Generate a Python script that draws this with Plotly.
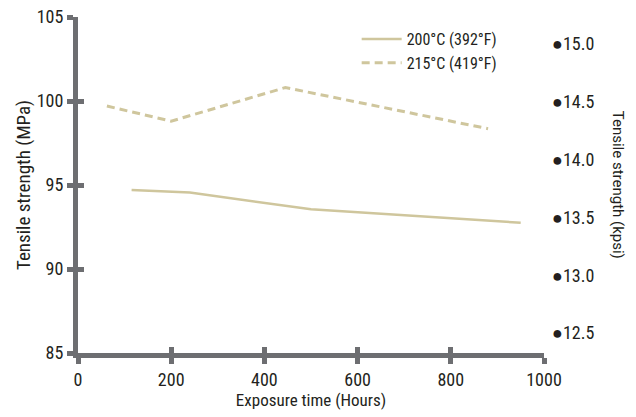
import plotly.graph_objects as go

# Data
hours_200 = [115, 240, 500, 950]
mpa_200 = [94.7, 94.55, 93.55, 92.75]
hours_215 = [62, 200, 445, 880]
mpa_215 = [99.7, 98.8, 100.8, 98.35]

x_ticks = [0, 200, 400, 600, 800, 1000]
y_ticks = [85, 90, 95, 100, 105]
kpsi_ticks = [12.5, 13.0, 13.5, 14.0, 14.5, 15.0]
MPA_PER_KPSI = 6.894757

LINE = "#cfc69d"
AXIS = "#6d6e71"
TEXT = "#231f20"
FONT = "Roboto Condensed, Liberation Sans Narrow, Roboto, sans-serif"

fig = go.Figure()
fig.add_trace(go.Scatter(x=hours_200, y=mpa_200, mode="lines", name="200°C (392°F)",
                         line=dict(color=LINE, width=2.5)))
fig.add_trace(go.Scatter(x=hours_215, y=mpa_215, mode="lines", name="215°C (419°F)",
                         line=dict(color=LINE, width=3, dash="8px,5px"),
                         xaxis="x2", yaxis="y3"))
fig.add_trace(go.Scatter(x=[], y=[], yaxis="y2", showlegend=False, hoverinfo="skip"))

tickfont = dict(family=FONT, size=18, color=TEXT)
axis_common = dict(showgrid=False, zeroline=False, ticklen=6, tickwidth=5, tickcolor=AXIS,
                   automargin=False, ticklabeloverflow="allow")

fig.update_layout(
    width=636, height=417,
    margin=dict(l=78, r=92, t=17, b=64),
    paper_bgcolor="white", plot_bgcolor="white",
    font=dict(family=FONT, color=TEXT),
    xaxis=dict(range=[0, 1000], tickvals=x_ticks, ticks="outside",
               showline=True, linecolor=AXIS, linewidth=5, tickfont=tickfont,
               title=dict(text="Exposure time (Hours)", font=dict(family=FONT, size=17, color=TEXT), standoff=5),
               **axis_common),
    xaxis2=dict(range=[0, 1000], tickvals=x_ticks, ticks="inside", overlaying="x",
                anchor="y", showticklabels=False, showline=False, **axis_common),
    yaxis=dict(range=[85, 105], tickvals=y_ticks, ticks="outside",
               showline=True, linecolor=AXIS, linewidth=5, tickfont=tickfont,
               title=dict(text="Tensile strength (MPa)", font=dict(family=FONT, size=19, color=TEXT), standoff=3),
               **axis_common),
    yaxis3=dict(range=[85, 105], tickvals=y_ticks, ticks="inside", overlaying="y",
                anchor="x", showticklabels=False, showline=False, **axis_common),
    yaxis2=dict(range=[85 / MPA_PER_KPSI, 105 / MPA_PER_KPSI], overlaying="y", side="right",
                anchor="x", tickvals=kpsi_ticks,
                ticktext=["<span style='font-size:18px'>●</span>%.1f" % v for v in kpsi_ticks],
                ticks="", showline=False, showgrid=False, zeroline=False,
                ticklabelstandoff=7, automargin=False, ticklabeloverflow="allow",
                tickfont=dict(family=FONT, size=18, color=TEXT)),
    legend=dict(x=0.598, y=0.985, xanchor="left", yanchor="top", bgcolor="rgba(0,0,0,0)",
                font=dict(family=FONT, size=16, color=TEXT), tracegroupgap=0, itemwidth=40),
    annotations=[dict(text="Tensile strength (kpsi)", xref="paper", yref="paper",
                      x=1.183, y=0.5, textangle=90, showarrow=False,
                      font=dict(family="Roboto, sans-serif", size=15, color=TEXT))],
)

fig.write_html("out.html", config={"displayModeBar": False},
               post_script="document.body.style.margin='0';")
